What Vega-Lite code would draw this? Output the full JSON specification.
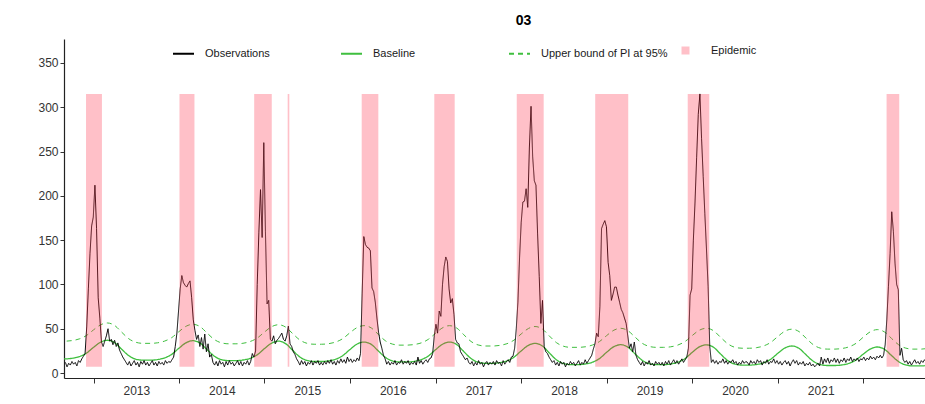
{
  "$schema": "https://vega.github.io/schema/vega-lite/v6.json",
  "width": 861,
  "height": 339,
  "autosize": {"type": "none"},
  "padding": {"left": 64, "top": 39, "right": 0, "bottom": 26},
  "background": "#ffffff",
  "title": {"text": "03", "frame": "group", "anchor": "middle", "dx": 29, "offset": 11, "fontSize": 14, "fontWeight": "bold", "font": "Liberation Sans", "color": "#000000"},
  "config": {"view": {"stroke": null}, "font": "Liberation Sans"},
  "datasets": {
    "epi": [
      {"start": "2012-11-30", "end": "2013-02-06"},
      {"start": "2014-01-03", "end": "2014-03-08"},
      {"start": "2014-11-18", "end": "2015-02-01"},
      {"start": "2015-04-10", "end": "2015-04-17"},
      {"start": "2016-02-20", "end": "2016-05-01"},
      {"start": "2016-12-26", "end": "2017-03-23"},
      {"start": "2017-12-13", "end": "2018-04-07"},
      {"start": "2018-11-13", "end": "2019-04-03"},
      {"start": "2019-12-13", "end": "2020-03-14"},
      {"start": "2022-04-10", "end": "2022-06-03"}
    ],
    "curves": [
      {"d":"2012-08-01","b":16,"u":36},{"d":"2012-09-01","b":16,"u":36},{"d":"2012-10-01","b":16.6,"u":36.6},{"d":"2012-11-01","b":18.5,"u":38.5},{"d":"2012-12-01","b":22.3,"u":42.2},
      {"d":"2013-01-01","b":29,"u":48.7},{"d":"2013-02-01","b":34.9,"u":54.5},{"d":"2013-03-01","b":37,"u":56.5},{"d":"2013-04-01","b":34.3,"u":53.7},{"d":"2013-05-01","b":26.9,"u":46.2},{"d":"2013-06-01","b":19.5,"u":38.6},{"d":"2013-07-01","b":15.6,"u":34.7},{"d":"2013-08-01","b":14.5,"u":33.5},{"d":"2013-09-01","b":14.5,"u":33.5},{"d":"2013-10-01","b":15.2,"u":34.1},{"d":"2013-11-01","b":17.1,"u":36.1},{"d":"2013-12-01","b":21.1,"u":40},
      {"d":"2014-01-01","b":28.1,"u":46.8},{"d":"2014-02-01","b":34.3,"u":52.9},{"d":"2014-03-01","b":36.5,"u":55},{"d":"2014-04-01","b":33.8,"u":52.4},{"d":"2014-05-01","b":26.4,"u":45.1},{"d":"2014-06-01","b":19,"u":37.8},{"d":"2014-07-01","b":15.1,"u":34.1},{"d":"2014-08-01","b":14,"u":33},{"d":"2014-09-01","b":14,"u":33},{"d":"2014-10-01","b":14.7,"u":33.6},{"d":"2014-11-01","b":16.6,"u":35.6},{"d":"2014-12-01","b":20.6,"u":39.5},
      {"d":"2015-01-01","b":27.6,"u":46.3},{"d":"2015-02-01","b":33.8,"u":52.4},{"d":"2015-03-01","b":36,"u":54.5},{"d":"2015-04-01","b":33.2,"u":51.9},{"d":"2015-05-01","b":25.7,"u":44.6},{"d":"2015-06-01","b":18.1,"u":37.3},{"d":"2015-07-01","b":14.2,"u":33.6},{"d":"2015-08-01","b":13,"u":32.5},{"d":"2015-09-01","b":13,"u":32.5},{"d":"2015-10-01","b":13.7,"u":33.1},{"d":"2015-11-01","b":15.6,"u":35},{"d":"2015-12-01","b":19.6,"u":38.8},
      {"d":"2016-01-01","b":26.6,"u":45.5},{"d":"2016-02-01","b":32.8,"u":51.4},{"d":"2016-03-01","b":35,"u":53.5},{"d":"2016-04-01","b":32.3,"u":50.9},{"d":"2016-05-01","b":24.9,"u":43.6},{"d":"2016-06-01","b":17.5,"u":36.3},{"d":"2016-07-01","b":13.6,"u":32.6},{"d":"2016-08-01","b":12.5,"u":31.5},{"d":"2016-09-01","b":12.5,"u":31.5},{"d":"2016-10-01","b":13.2,"u":32.2},{"d":"2016-11-01","b":15.2,"u":34.1},{"d":"2016-12-01","b":19.3,"u":38.1},
      {"d":"2017-01-01","b":26.5,"u":45.1},{"d":"2017-02-01","b":32.8,"u":51.3},{"d":"2017-03-01","b":35,"u":53.5},{"d":"2017-04-01","b":32.1,"u":50.7},{"d":"2017-05-01","b":24.2,"u":43.2},{"d":"2017-06-01","b":16.3,"u":35.6},{"d":"2017-07-01","b":12.2,"u":31.7},{"d":"2017-08-01","b":11,"u":30.5},{"d":"2017-09-01","b":11,"u":30.5},{"d":"2017-10-01","b":11.7,"u":31.2},{"d":"2017-11-01","b":13.7,"u":33.1},{"d":"2017-12-01","b":17.8,"u":37.1},
      {"d":"2018-01-01","b":25,"u":44.1},{"d":"2018-02-01","b":31.3,"u":50.3},{"d":"2018-03-01","b":33.5,"u":52.5},{"d":"2018-04-01","b":30.6,"u":49.7},{"d":"2018-05-01","b":22.7,"u":41.9},{"d":"2018-06-01","b":14.8,"u":34.2},{"d":"2018-07-01","b":10.7,"u":30.2},{"d":"2018-08-01","b":9.5,"u":29},{"d":"2018-09-01","b":9.5,"u":29},{"d":"2018-10-01","b":10.2,"u":29.6},{"d":"2018-11-01","b":12.2,"u":31.6},{"d":"2018-12-01","b":16.3,"u":35.5},
      {"d":"2019-01-01","b":23.5,"u":42.3},{"d":"2019-02-01","b":29.8,"u":48.4},{"d":"2019-03-01","b":32,"u":50.5},{"d":"2019-04-01","b":29.3,"u":47.9},{"d":"2019-05-01","b":21.9,"u":40.8},{"d":"2019-06-01","b":14.5,"u":33.7},{"d":"2019-07-01","b":10.6,"u":30.1},{"d":"2019-08-01","b":9.5,"u":29},{"d":"2019-09-01","b":9.5,"u":29},{"d":"2019-10-01","b":10.2,"u":29.6},{"d":"2019-11-01","b":12.2,"u":31.6},{"d":"2019-12-01","b":16.2,"u":35.5},
      {"d":"2020-01-01","b":23.3,"u":42.3},{"d":"2020-02-01","b":29.6,"u":48.4},{"d":"2020-03-01","b":31.8,"u":50.5},{"d":"2020-04-01","b":29.1,"u":47.8},{"d":"2020-05-01","b":21.5,"u":40.4},{"d":"2020-06-01","b":14,"u":33},{"d":"2020-07-01","b":10.1,"u":29.1},{"d":"2020-08-01","b":9,"u":28},{"d":"2020-09-01","b":9,"u":28},{"d":"2020-10-01","b":9.6,"u":28.6},{"d":"2020-11-01","b":11.6,"u":30.6},{"d":"2020-12-01","b":15.5,"u":34.5},
      {"d":"2021-01-01","b":22.3,"u":41.3},{"d":"2021-02-01","b":28.4,"u":47.4},{"d":"2021-03-01","b":30.5,"u":49.5},{"d":"2021-04-01","b":27.9,"u":46.8},{"d":"2021-05-01","b":20.6,"u":39.4},{"d":"2021-06-01","b":13.3,"u":32},{"d":"2021-07-01","b":9.6,"u":28.1},{"d":"2021-08-01","b":8.5,"u":27},{"d":"2021-09-01","b":8.5,"u":27},{"d":"2021-10-01","b":9.1,"u":27.7},{"d":"2021-11-01","b":11,"u":29.6},{"d":"2021-12-01","b":14.8,"u":33.6},
      {"d":"2022-01-01","b":21.5,"u":40.6},{"d":"2022-02-01","b":27.3,"u":46.8},{"d":"2022-03-01","b":29.4,"u":49},{"d":"2022-04-01","b":26.8,"u":46.4},{"d":"2022-05-01","b":19.8,"u":39.1},{"d":"2022-06-01","b":12.7,"u":31.8},{"d":"2022-07-01","b":9.1,"u":28.1},{"d":"2022-08-01","b":8,"u":27},{"d":"2022-09-01","b":8,"u":27},{"d":"2022-10-01","b":8.6,"u":27.7}
    ],
    "obs": [
      {"d":"2012-09-03","o":12},{"d":"2012-09-10","o":7},{"d":"2012-09-17","o":11},{"d":"2012-09-24","o":9},{"d":"2012-10-01","o":13},{"d":"2012-10-08","o":10},{"d":"2012-10-15","o":12},{"d":"2012-10-22","o":8},{"d":"2012-10-29","o":14},{"d":"2012-11-05","o":12},{"d":"2012-11-12","o":16},{"d":"2012-11-19","o":19},{"d":"2012-11-26","o":22},
      {"d":"2012-12-03","o":52},{"d":"2012-12-10","o":95},{"d":"2012-12-17","o":135},{"d":"2012-12-24","o":166},{"d":"2012-12-31","o":176},{"d":"2013-01-07","o":212},{"d":"2013-01-14","o":163},{"d":"2013-01-21","o":85},{"d":"2013-01-28","o":62},{"d":"2013-02-04","o":35},{"d":"2013-02-11","o":30},{"d":"2013-02-18","o":36},{"d":"2013-02-25","o":42},
      {"d":"2013-03-04","o":50},{"d":"2013-03-11","o":36},{"d":"2013-03-18","o":38},{"d":"2013-03-25","o":32},{"d":"2013-04-01","o":37},{"d":"2013-04-08","o":30},{"d":"2013-04-15","o":34},{"d":"2013-04-22","o":26},{"d":"2013-04-29","o":22},{"d":"2013-05-06","o":18},{"d":"2013-05-13","o":15},{"d":"2013-05-20","o":12},{"d":"2013-05-27","o":9},
      {"d":"2013-06-03","o":13},{"d":"2013-06-10","o":8},{"d":"2013-06-17","o":11},{"d":"2013-06-24","o":14},{"d":"2013-07-01","o":9},{"d":"2013-07-08","o":12},{"d":"2013-07-15","o":7},{"d":"2013-07-22","o":13},{"d":"2013-07-29","o":10},{"d":"2013-08-05","o":14},{"d":"2013-08-12","o":9},{"d":"2013-08-19","o":12},{"d":"2013-08-26","o":8},
      {"d":"2013-09-02","o":11},{"d":"2013-09-09","o":14},{"d":"2013-09-16","o":9},{"d":"2013-09-23","o":12},{"d":"2013-09-30","o":8},{"d":"2013-10-07","o":13},{"d":"2013-10-14","o":10},{"d":"2013-10-21","o":12},{"d":"2013-10-28","o":9},{"d":"2013-11-04","o":14},{"d":"2013-11-11","o":11},{"d":"2013-11-18","o":13},{"d":"2013-11-25","o":12},
      {"d":"2013-12-02","o":15},{"d":"2013-12-09","o":18},{"d":"2013-12-16","o":30},{"d":"2013-12-23","o":45},{"d":"2013-12-30","o":70},{"d":"2014-01-06","o":95},{"d":"2014-01-13","o":110},{"d":"2014-01-20","o":102},{"d":"2014-01-27","o":99},{"d":"2014-02-03","o":97},{"d":"2014-02-10","o":101},{"d":"2014-02-17","o":104},{"d":"2014-02-24","o":85},
      {"d":"2014-03-03","o":60},{"d":"2014-03-10","o":48},{"d":"2014-03-17","o":38},{"d":"2014-03-24","o":43},{"d":"2014-03-31","o":30},{"d":"2014-04-07","o":40},{"d":"2014-04-14","o":27},{"d":"2014-04-21","o":44},{"d":"2014-04-28","o":24},{"d":"2014-05-05","o":33},{"d":"2014-05-12","o":18},{"d":"2014-05-19","o":21},{"d":"2014-05-26","o":12},
      {"d":"2014-06-02","o":9},{"d":"2014-06-09","o":13},{"d":"2014-06-16","o":8},{"d":"2014-06-23","o":14},{"d":"2014-06-30","o":10},{"d":"2014-07-07","o":12},{"d":"2014-07-14","o":7},{"d":"2014-07-21","o":13},{"d":"2014-07-28","o":9},{"d":"2014-08-04","o":14},{"d":"2014-08-11","o":10},{"d":"2014-08-18","o":12},{"d":"2014-08-25","o":8},
      {"d":"2014-09-01","o":11},{"d":"2014-09-08","o":14},{"d":"2014-09-15","o":9},{"d":"2014-09-22","o":13},{"d":"2014-09-29","o":8},{"d":"2014-10-06","o":12},{"d":"2014-10-13","o":10},{"d":"2014-10-20","o":14},{"d":"2014-10-27","o":9},{"d":"2014-11-03","o":13},{"d":"2014-11-10","o":22},{"d":"2014-11-17","o":18},{"d":"2014-11-24","o":25},
      {"d":"2014-12-01","o":100},{"d":"2014-12-08","o":159},{"d":"2014-12-15","o":207},{"d":"2014-12-22","o":153},{"d":"2014-12-29","o":260},{"d":"2015-01-05","o":160},{"d":"2015-01-12","o":78},{"d":"2015-01-19","o":82},{"d":"2015-01-26","o":38},{"d":"2015-02-02","o":36},{"d":"2015-02-09","o":42},{"d":"2015-02-16","o":33},{"d":"2015-02-23","o":37},
      {"d":"2015-03-02","o":39},{"d":"2015-03-09","o":42},{"d":"2015-03-16","o":45},{"d":"2015-03-23","o":38},{"d":"2015-03-30","o":36},{"d":"2015-04-06","o":42},{"d":"2015-04-13","o":53},{"d":"2015-04-20","o":33},{"d":"2015-04-27","o":30},{"d":"2015-05-04","o":24},{"d":"2015-05-11","o":21},{"d":"2015-05-18","o":16},{"d":"2015-05-25","o":13},
      {"d":"2015-06-01","o":9},{"d":"2015-06-08","o":14},{"d":"2015-06-15","o":10},{"d":"2015-06-22","o":13},{"d":"2015-06-29","o":8},{"d":"2015-07-06","o":12},{"d":"2015-07-13","o":10},{"d":"2015-07-20","o":14},{"d":"2015-07-27","o":9},{"d":"2015-08-03","o":13},{"d":"2015-08-10","o":11},{"d":"2015-08-17","o":14},{"d":"2015-08-24","o":9},
      {"d":"2015-08-31","o":12},{"d":"2015-09-07","o":9},{"d":"2015-09-14","o":13},{"d":"2015-09-21","o":10},{"d":"2015-09-28","o":14},{"d":"2015-10-05","o":11},{"d":"2015-10-12","o":15},{"d":"2015-10-19","o":10},{"d":"2015-10-26","o":13},{"d":"2015-11-02","o":9},{"d":"2015-11-09","o":14},{"d":"2015-11-16","o":11},{"d":"2015-11-23","o":16},
      {"d":"2015-11-30","o":12},{"d":"2015-12-07","o":15},{"d":"2015-12-14","o":11},{"d":"2015-12-21","o":18},{"d":"2015-12-28","o":13},{"d":"2016-01-04","o":16},{"d":"2016-01-11","o":12},{"d":"2016-01-18","o":15},{"d":"2016-01-25","o":13},{"d":"2016-02-01","o":17},{"d":"2016-02-08","o":14},{"d":"2016-02-15","o":22},{"d":"2016-02-22","o":90},
      {"d":"2016-02-29","o":154},{"d":"2016-03-07","o":145},{"d":"2016-03-14","o":142},{"d":"2016-03-21","o":141},{"d":"2016-03-28","o":138},{"d":"2016-04-04","o":96},{"d":"2016-04-11","o":92},{"d":"2016-04-18","o":80},{"d":"2016-04-25","o":62},{"d":"2016-05-02","o":46},{"d":"2016-05-09","o":35},{"d":"2016-05-16","o":28},{"d":"2016-05-23","o":20},
      {"d":"2016-05-30","o":16},{"d":"2016-06-06","o":10},{"d":"2016-06-13","o":13},{"d":"2016-06-20","o":9},{"d":"2016-06-27","o":12},{"d":"2016-07-04","o":10},{"d":"2016-07-11","o":14},{"d":"2016-07-18","o":9},{"d":"2016-07-25","o":12},{"d":"2016-08-01","o":11},{"d":"2016-08-08","o":15},{"d":"2016-08-15","o":10},{"d":"2016-08-22","o":13},
      {"d":"2016-08-29","o":11},{"d":"2016-09-05","o":14},{"d":"2016-09-12","o":9},{"d":"2016-09-19","o":12},{"d":"2016-09-26","o":10},{"d":"2016-10-03","o":13},{"d":"2016-10-10","o":9},{"d":"2016-10-17","o":18},{"d":"2016-10-24","o":11},{"d":"2016-10-31","o":14},{"d":"2016-11-07","o":10},{"d":"2016-11-14","o":13},{"d":"2016-11-21","o":15},
      {"d":"2016-11-28","o":12},{"d":"2016-12-05","o":16},{"d":"2016-12-12","o":17},{"d":"2016-12-19","o":22},{"d":"2016-12-26","o":42},{"d":"2017-01-02","o":55},{"d":"2017-01-09","o":45},{"d":"2017-01-16","o":70},{"d":"2017-01-23","o":64},{"d":"2017-01-30","o":100},{"d":"2017-02-06","o":120},{"d":"2017-02-13","o":131},{"d":"2017-02-20","o":126},
      {"d":"2017-02-27","o":95},{"d":"2017-03-06","o":79},{"d":"2017-03-13","o":84},{"d":"2017-03-20","o":66},{"d":"2017-03-27","o":38},{"d":"2017-04-03","o":34},{"d":"2017-04-10","o":33},{"d":"2017-04-17","o":24},{"d":"2017-04-24","o":21},{"d":"2017-05-01","o":18},{"d":"2017-05-08","o":15},{"d":"2017-05-15","o":17},{"d":"2017-05-22","o":12},
      {"d":"2017-05-29","o":10},{"d":"2017-06-05","o":13},{"d":"2017-06-12","o":8},{"d":"2017-06-19","o":12},{"d":"2017-06-26","o":9},{"d":"2017-07-03","o":14},{"d":"2017-07-10","o":10},{"d":"2017-07-17","o":12},{"d":"2017-07-24","o":7},{"d":"2017-07-31","o":11},{"d":"2017-08-07","o":13},{"d":"2017-08-14","o":9},{"d":"2017-08-21","o":12},
      {"d":"2017-08-28","o":10},{"d":"2017-09-04","o":13},{"d":"2017-09-11","o":9},{"d":"2017-09-18","o":14},{"d":"2017-09-25","o":11},{"d":"2017-10-02","o":12},{"d":"2017-10-09","o":8},{"d":"2017-10-16","o":14},{"d":"2017-10-23","o":10},{"d":"2017-10-30","o":13},{"d":"2017-11-06","o":15},{"d":"2017-11-13","o":12},{"d":"2017-11-20","o":18},
      {"d":"2017-11-27","o":19},{"d":"2017-12-04","o":28},{"d":"2017-12-11","o":50},{"d":"2017-12-18","o":80},{"d":"2017-12-25","o":130},{"d":"2018-01-01","o":170},{"d":"2018-01-08","o":193},{"d":"2018-01-15","o":194},{"d":"2018-01-22","o":208},{"d":"2018-01-29","o":187},{"d":"2018-02-05","o":255},{"d":"2018-02-12","o":301},{"d":"2018-02-19","o":244},
      {"d":"2018-02-26","o":217},{"d":"2018-03-05","o":212},{"d":"2018-03-12","o":157},{"d":"2018-03-19","o":109},{"d":"2018-03-26","o":56},{"d":"2018-04-02","o":82},{"d":"2018-04-09","o":30},{"d":"2018-04-16","o":24},{"d":"2018-04-23","o":22},{"d":"2018-04-30","o":18},{"d":"2018-05-07","o":15},{"d":"2018-05-14","o":12},{"d":"2018-05-21","o":14},
      {"d":"2018-05-28","o":9},{"d":"2018-06-04","o":12},{"d":"2018-06-11","o":8},{"d":"2018-06-18","o":13},{"d":"2018-06-25","o":10},{"d":"2018-07-02","o":12},{"d":"2018-07-09","o":7},{"d":"2018-07-16","o":11},{"d":"2018-07-23","o":9},{"d":"2018-07-30","o":13},{"d":"2018-08-06","o":10},{"d":"2018-08-13","o":12},{"d":"2018-08-20","o":8},
      {"d":"2018-08-27","o":11},{"d":"2018-09-03","o":14},{"d":"2018-09-10","o":9},{"d":"2018-09-17","o":12},{"d":"2018-09-24","o":10},{"d":"2018-10-01","o":15},{"d":"2018-10-08","o":11},{"d":"2018-10-15","o":14},{"d":"2018-10-22","o":17},{"d":"2018-10-29","o":20},{"d":"2018-11-05","o":27},{"d":"2018-11-12","o":33},{"d":"2018-11-19","o":45},
      {"d":"2018-11-26","o":41},{"d":"2018-12-03","o":75},{"d":"2018-12-10","o":163},{"d":"2018-12-17","o":168},{"d":"2018-12-24","o":172},{"d":"2018-12-31","o":165},{"d":"2019-01-07","o":125},{"d":"2019-01-14","o":110},{"d":"2019-01-21","o":82},{"d":"2019-01-28","o":89},{"d":"2019-02-04","o":97},{"d":"2019-02-11","o":97},{"d":"2019-02-18","o":88},
      {"d":"2019-02-25","o":80},{"d":"2019-03-04","o":72},{"d":"2019-03-11","o":68},{"d":"2019-03-18","o":62},{"d":"2019-03-25","o":56},{"d":"2019-04-01","o":42},{"d":"2019-04-08","o":28},{"d":"2019-04-15","o":33},{"d":"2019-04-22","o":24},{"d":"2019-04-29","o":35},{"d":"2019-05-06","o":20},{"d":"2019-05-13","o":15},{"d":"2019-05-20","o":12},
      {"d":"2019-05-27","o":9},{"d":"2019-06-03","o":13},{"d":"2019-06-10","o":8},{"d":"2019-06-17","o":12},{"d":"2019-06-24","o":10},{"d":"2019-07-01","o":14},{"d":"2019-07-08","o":9},{"d":"2019-07-15","o":11},{"d":"2019-07-22","o":8},{"d":"2019-07-29","o":13},{"d":"2019-08-05","o":10},{"d":"2019-08-12","o":12},{"d":"2019-08-19","o":9},
      {"d":"2019-08-26","o":12},{"d":"2019-09-02","o":8},{"d":"2019-09-09","o":13},{"d":"2019-09-16","o":10},{"d":"2019-09-23","o":14},{"d":"2019-09-30","o":9},{"d":"2019-10-07","o":12},{"d":"2019-10-14","o":15},{"d":"2019-10-21","o":11},{"d":"2019-10-28","o":14},{"d":"2019-11-04","o":10},{"d":"2019-11-11","o":13},{"d":"2019-11-18","o":16},
      {"d":"2019-11-25","o":12},{"d":"2019-12-02","o":15},{"d":"2019-12-09","o":18},{"d":"2019-12-16","o":28},{"d":"2019-12-23","o":88},{"d":"2019-12-30","o":95},{"d":"2020-01-06","o":150},{"d":"2020-01-13","o":192},{"d":"2020-01-20","o":243},{"d":"2020-01-27","o":292},{"d":"2020-02-03","o":315},{"d":"2020-02-10","o":265},{"d":"2020-02-17","o":222},
      {"d":"2020-02-24","o":180},{"d":"2020-03-02","o":140},{"d":"2020-03-09","o":98},{"d":"2020-03-16","o":30},{"d":"2020-03-23","o":12},{"d":"2020-03-30","o":15},{"d":"2020-04-06","o":11},{"d":"2020-04-13","o":14},{"d":"2020-04-20","o":10},{"d":"2020-04-27","o":13},{"d":"2020-05-04","o":12},{"d":"2020-05-11","o":16},{"d":"2020-05-18","o":11},
      {"d":"2020-05-25","o":14},{"d":"2020-06-01","o":10},{"d":"2020-06-08","o":13},{"d":"2020-06-15","o":12},{"d":"2020-06-22","o":15},{"d":"2020-06-29","o":11},{"d":"2020-07-06","o":13},{"d":"2020-07-13","o":9},{"d":"2020-07-20","o":12},{"d":"2020-07-27","o":10},{"d":"2020-08-03","o":14},{"d":"2020-08-10","o":11},{"d":"2020-08-17","o":13},
      {"d":"2020-08-24","o":12},{"d":"2020-08-31","o":9},{"d":"2020-09-07","o":14},{"d":"2020-09-14","o":11},{"d":"2020-09-21","o":13},{"d":"2020-09-28","o":10},{"d":"2020-10-05","o":15},{"d":"2020-10-12","o":12},{"d":"2020-10-19","o":14},{"d":"2020-10-26","o":9},{"d":"2020-11-02","o":13},{"d":"2020-11-09","o":11},{"d":"2020-11-16","o":15},
      {"d":"2020-11-23","o":10},{"d":"2020-11-30","o":13},{"d":"2020-12-07","o":12},{"d":"2020-12-14","o":16},{"d":"2020-12-21","o":11},{"d":"2020-12-28","o":14},{"d":"2021-01-04","o":10},{"d":"2021-01-11","o":13},{"d":"2021-01-18","o":9},{"d":"2021-01-25","o":12},{"d":"2021-02-01","o":14},{"d":"2021-02-08","o":10},{"d":"2021-02-15","o":13},
      {"d":"2021-02-22","o":8},{"d":"2021-03-01","o":12},{"d":"2021-03-08","o":15},{"d":"2021-03-15","o":11},{"d":"2021-03-22","o":14},{"d":"2021-03-29","o":9},{"d":"2021-04-05","o":12},{"d":"2021-04-12","o":10},{"d":"2021-04-19","o":13},{"d":"2021-04-26","o":8},{"d":"2021-05-03","o":11},{"d":"2021-05-10","o":9},{"d":"2021-05-17","o":12},
      {"d":"2021-05-24","o":8},{"d":"2021-05-31","o":10},{"d":"2021-06-07","o":7},{"d":"2021-06-14","o":9},{"d":"2021-06-21","o":11},{"d":"2021-06-28","o":8},{"d":"2021-07-05","o":18},{"d":"2021-07-12","o":10},{"d":"2021-07-19","o":16},{"d":"2021-07-26","o":12},{"d":"2021-08-02","o":17},{"d":"2021-08-09","o":11},{"d":"2021-08-16","o":15},
      {"d":"2021-08-23","o":13},{"d":"2021-08-30","o":17},{"d":"2021-09-06","o":12},{"d":"2021-09-13","o":16},{"d":"2021-09-20","o":11},{"d":"2021-09-27","o":15},{"d":"2021-10-04","o":13},{"d":"2021-10-11","o":17},{"d":"2021-10-18","o":12},{"d":"2021-10-25","o":16},{"d":"2021-11-01","o":14},{"d":"2021-11-08","o":18},{"d":"2021-11-15","o":13},
      {"d":"2021-11-22","o":16},{"d":"2021-11-29","o":14},{"d":"2021-12-06","o":17},{"d":"2021-12-13","o":13},{"d":"2021-12-20","o":16},{"d":"2021-12-27","o":15},{"d":"2022-01-03","o":18},{"d":"2022-01-10","o":14},{"d":"2022-01-17","o":17},{"d":"2022-01-24","o":15},{"d":"2022-01-31","o":19},{"d":"2022-02-07","o":16},{"d":"2022-02-14","o":18},
      {"d":"2022-02-21","o":15},{"d":"2022-02-28","o":19},{"d":"2022-03-07","o":17},{"d":"2022-03-14","o":20},{"d":"2022-03-21","o":17},{"d":"2022-03-28","o":20},{"d":"2022-04-04","o":32},{"d":"2022-04-11","o":60},{"d":"2022-04-18","o":98},{"d":"2022-04-25","o":135},{"d":"2022-05-02","o":182},{"d":"2022-05-09","o":160},{"d":"2022-05-16","o":124},
      {"d":"2022-05-23","o":100},{"d":"2022-05-30","o":94},{"d":"2022-06-06","o":20},{"d":"2022-06-13","o":28},{"d":"2022-06-20","o":15},{"d":"2022-06-27","o":12},{"d":"2022-07-04","o":14},{"d":"2022-07-11","o":10},{"d":"2022-07-18","o":13},{"d":"2022-07-25","o":9},{"d":"2022-08-01","o":12},{"d":"2022-08-08","o":15},{"d":"2022-08-15","o":11},
      {"d":"2022-08-22","o":13},{"d":"2022-08-29","o":10},{"d":"2022-09-05","o":14},{"d":"2022-09-12","o":12},{"d":"2022-09-19","o":15},{"d":"2022-09-26","o":13}
    ]
  },
  "layer": [
    {
      "data": {"name": "curves"},
      "mark": {"type": "line", "strokeWidth": 1, "interpolate": "monotone", "clip": true},
      "encoding": {
        "x": {"field": "d", "type": "temporal",
          "scale": {"type": "utc", "domain": [{"year": 2012, "month": 8, "date": 28, "utc": true}, {"year": 2022, "month": 9, "date": 21, "utc": true}]},
          "axis": {"values": [{"year": 2013, "month": 1, "date": 1, "utc": true}, {"year": 2014, "month": 1, "date": 1, "utc": true}, {"year": 2015, "month": 1, "date": 1, "utc": true}, {"year": 2016, "month": 1, "date": 1, "utc": true}, {"year": 2017, "month": 1, "date": 1, "utc": true}, {"year": 2018, "month": 1, "date": 1, "utc": true}, {"year": 2019, "month": 1, "date": 1, "utc": true}, {"year": 2020, "month": 1, "date": 1, "utc": true}, {"year": 2021, "month": 1, "date": 1, "utc": true}, {"year": 2022, "month": 1, "date": 1, "utc": true}],
            "labelExpr": "utcFormat(datum.value, '%Y') == '2022' ? '' : utcFormat(datum.value, '%Y')",
            "labelOffset": 42.8, "labelFontSize": 12, "labelFont": "Liberation Sans", "labelColor": "#333333", "tickColor": "#333333", "tickSize": 5, "tickWidth": 1, "domainColor": "#222222", "domainWidth": 1.2, "labelPadding": 2, "title": null, "grid": false, "labelFlush": false, "labelOverlap": false}},
        "y": {"field": "u", "type": "quantitative",
          "scale": {"domain": [-5.6, 377], "nice": false, "zero": false},
          "axis": {"values": [0, 50, 100, 150, 200, 250, 300, 350], "labelFontSize": 12, "labelFont": "Liberation Sans", "labelColor": "#333333", "tickColor": "#333333", "tickSize": 4, "tickWidth": 1, "domainColor": "#222222", "domainWidth": 1.2, "labelPadding": 2, "title": null, "grid": false}},
        "color": {"datum": "Upper bound of PI at 95%",
          "scale": {"domain": ["Observations", "Baseline", "Upper bound of PI at 95%"], "range": ["#000000", "#3fbf3f", "#3fbf3f"]},
          "legend": {"orient": "none", "legendX": 108, "legendY": 3, "direction": "horizontal", "title": null, "symbolType": "stroke", "symbolSize": 441, "symbolStrokeWidth": 2, "labelFontSize": 11, "labelFont": "Liberation Sans", "labelColor": "#1a1a1a", "labelOffset": 10, "columnPadding": 5, "gridAlign": "all", "padding": 0}},
        "strokeDash": {"datum": "Upper bound of PI at 95%",
          "scale": {"domain": ["Observations", "Baseline", "Upper bound of PI at 95%"], "range": [[1, 0], [1, 0], [5, 4]]}}
      }
    },
    {
      "data": {"name": "curves"},
      "mark": {"type": "line", "strokeWidth": 1.3, "interpolate": "monotone", "clip": true},
      "encoding": {
        "x": {"field": "d", "type": "temporal"},
        "y": {"field": "b", "type": "quantitative"},
        "color": {"datum": "Baseline"},
        "strokeDash": {"datum": "Baseline"}
      }
    },
    {
      "data": {"name": "obs"},
      "mark": {"type": "line", "strokeWidth": 1, "clip": true},
      "encoding": {
        "x": {"field": "d", "type": "temporal"},
        "y": {"field": "o", "type": "quantitative"},
        "color": {"datum": "Observations"},
        "strokeDash": {"datum": "Observations"}
      }
    },
    {
      "data": {"name": "epi"},
      "mark": {"type": "rect", "opacity": 0.3, "clip": true},
      "encoding": {
        "x": {"field": "start", "type": "temporal"},
        "x2": {"field": "end"},
        "y": {"datum": 7, "type": "quantitative"},
        "y2": {"datum": 315},
        "fill": {"datum": "Epidemic",
          "scale": {"domain": ["Epidemic"], "range": ["#ff3048"]},
          "legend": {"orient": "none", "legendX": 616, "legendY": 6, "title": null, "symbolType": "square", "symbolSize": 64, "symbolStrokeWidth": 0, "symbolOpacity": 0.3, "labelOffset": 20, "labelFontSize": 11, "labelFont": "Liberation Sans", "labelColor": "#1a1a1a", "padding": 0}}
      }
    }
  ]
}
